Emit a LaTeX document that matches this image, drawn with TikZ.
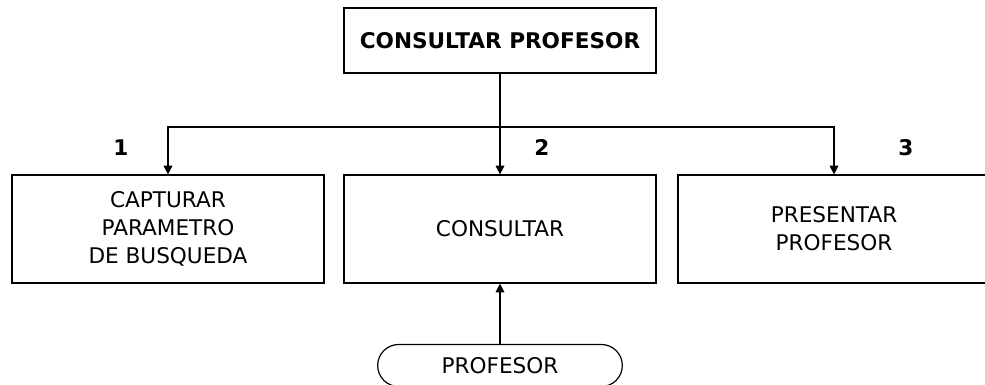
\documentclass[tikz,border=0pt]{standalone}
\usepackage{fontspec}
\setmainfont{DejaVu Sans}
\usetikzlibrary{arrows.meta,positioning,shapes.misc}

\tikzset{
  proc/.style={draw,line width=0.9pt,minimum width=234pt,minimum height=81pt,
    align=center,inner sep=2pt},
  datos/.style={draw,line width=0.9pt,rounded rectangle,minimum width=187.5pt,
    minimum height=31.5pt,inner sep=2pt},
  flecha/.style={line width=0.9pt,-{Triangle[length=6.5pt,width=6.5pt]}},
  num/.style={font=\fontsize{16.2}{21}\selectfont\bfseries}
}

\begin{document}
\begin{tikzpicture}[x=0.75pt,y=-0.75pt,font=\fontsize{16.2}{21}\selectfont]
\useasboundingbox (0,0) rectangle (985,385);
\node[draw,line width=1.2pt,minimum width=234pt,minimum height=48.75pt,font=\fontsize{16.2}{21}\selectfont\bfseries] (top) at (500,40.5) {CONSULTAR PROFESOR};
\node[proc] (cap) at (168,229) {CAPTURAR\\PARAMETRO\\DE BUSQUEDA};
\node[proc] (cons) at (500,229) {CONSULTAR};
\node[proc] (pres) at (834,229) {PRESENTAR\\PROFESOR};
\node[datos] (prof) at (500,365.5) {PROFESOR};
\coordinate (bus) at (500,127);
\node[num] (n1) at (121,147.5) {1};
\node[num] (n2) at (542,147.5) {2};
\node[num] (n3) at (906,147.5) {3};
% enlaces
\draw[line width=0.9pt] (top.south) -- (bus);
\draw[flecha] (bus) -| (cap.north);
\draw[flecha] (bus) -- (cons.north);
\draw[flecha] (bus) -| (pres.north);
\draw[flecha] (prof.north) -- (cons.south);
\end{tikzpicture}
\end{document}
